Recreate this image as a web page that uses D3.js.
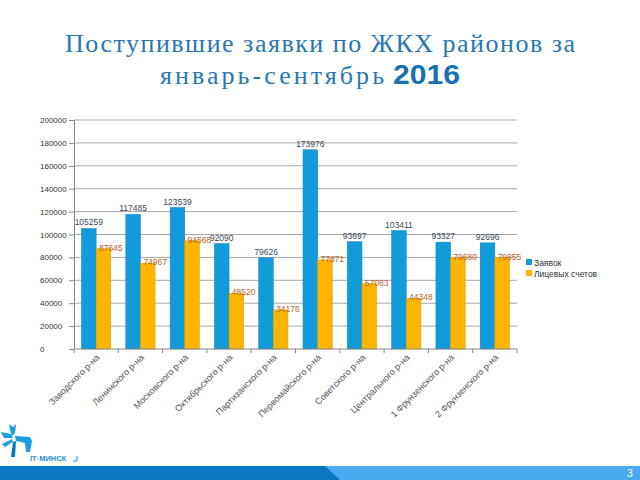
<!DOCTYPE html>
<html><head><meta charset="utf-8">
<script src="https://cdn.jsdelivr.net/npm/d3@7"></script>
<style>body{margin:0;background:#fff}svg{display:block}.serif{font-family:"Liberation Serif","DejaVu Serif",serif}.sans{font-family:"Liberation Sans",Arial,sans-serif}</style>
</head><body>
<svg id="c" width="640" height="480"></svg>
<script>
const categories = ["Заводского р-на","Ленинского р-на","Московского р-на","Октябрьского р-на","Партизанского р-на","Первомайского р-на","Советского р-на","Центрального р-на","1 Фрунзенского р-на","2 Фрунзенского р-на"];
const zayavok = [105259,117485,123539,92090,79626,173976,93697,103411,93327,92696];
const licevyh = [87645,74967,94568,48520,34176,77871,57083,44348,79680,79855];
const seriesNames = ["Заявок","Лицевых счетов"];
const yTicks = [0,20000,40000,60000,80000,100000,120000,140000,160000,180000,200000];

const svg = d3.select("#c");
const L=74,R=517,T=120,B=349;
const x = d3.scaleBand().domain(categories).range([L,R]).paddingInner(0.34).paddingOuter(0.17);
const x1 = d3.scaleBand().domain([0,1]).range([0,x.bandwidth()]);
const y = d3.scaleLinear().domain([0,200000]).range([B,T]);
const colors=["#119bdb","#ffb400"];

// title
svg.append("text").attr("class","serif").attr("x",65).attr("y",52).attr("fill","#2a76b4")
 .style("font-size","26px").attr("textLength",510).attr("lengthAdjust","spacing")
 .text("Поступившие заявки по ЖКХ районов за");
svg.append("text").attr("class","serif").attr("x",160).attr("y",84).attr("fill","#2a76b4")
 .style("font-size","26px").attr("textLength",224).attr("lengthAdjust","spacing").text("январь-сентябрь");
svg.append("text").attr("class","sans").attr("x",393).attr("y",84).attr("fill","#1670b5")
 .style("font-size","28px").style("font-weight","bold").attr("textLength",67).attr("lengthAdjust","spacingAndGlyphs").text("2016");

// grid
svg.append("g").selectAll("line").data(yTicks.slice(1)).join("line")
 .attr("x1",L).attr("x2",R).attr("y1",d=>y(d)).attr("y2",d=>y(d)).attr("stroke","#a8a8a8").attr("stroke-width",1);

// y axis
const ya = svg.append("g").attr("transform",`translate(${L},0)`).call(d3.axisLeft(y).tickValues(yTicks).tickSize(5).tickFormat(d3.format("d")));
ya.select(".domain").attr("stroke","#888");
ya.selectAll(".tick line").attr("stroke","#888");
ya.selectAll("text").attr("class","sans").attr("fill","#333").style("font-size","8px").attr("x",-34).attr("text-anchor","start");

// bars
const g = svg.append("g");
[zayavok,licevyh].forEach((vals,si)=>{
  g.selectAll(null).data(vals).join("rect")
   .attr("x",(d,i)=>x(categories[i])+x1(si)).attr("width",x1.bandwidth())
   .attr("y",d=>y(d)).attr("height",d=>B-y(d)).attr("fill",colors[si])
   .attr("stroke",si==0?"#0d7fb8":"#d99a00").attr("stroke-width",0.5);
});
// labels
g.selectAll(null).data(zayavok).join("text").attr("class","sans")
 .attr("x",(d,i)=>x(categories[i])+x1(0)+x1.bandwidth()/2).attr("y",d=>y(d)-3)
 .attr("text-anchor","middle").attr("fill","#3b4a5a").style("font-size","8.5px").text(d=>d);
g.selectAll(null).data(licevyh).join("text").attr("class","sans")
 .attr("x",(d,i)=>x(categories[i])+x1(1)+x1.bandwidth()).attr("y",d=>y(d)+2)
 .attr("text-anchor","middle").attr("fill","#b8642a").style("font-size","8.5px").text(d=>d);

// x axis
svg.append("line").attr("x1",L).attr("x2",R).attr("y1",B).attr("y2",B).attr("stroke","#888");
svg.append("g").selectAll("line").data(d3.range(categories.length+1)).join("line")
 .attr("x1",i=>L+i*(R-L)/categories.length).attr("x2",i=>L+i*(R-L)/categories.length).attr("y1",B).attr("y2",B+4).attr("stroke","#888");
svg.append("g").selectAll("text").data(categories).join("text").attr("class","sans")
 .attr("transform",d=>`translate(${x(d)+x.bandwidth()/2+4},${B+9}) rotate(-45)`)
 .attr("text-anchor","end").attr("fill","#555").style("font-size","9px").text(d=>d);

// legend
const lg = svg.append("g").attr("transform","translate(526,259)");
seriesNames.forEach((n,i)=>{
  lg.append("rect").attr("x",0).attr("y",i*11).attr("width",6).attr("height",6).attr("fill",colors[i]);
  lg.append("text").attr("class","sans").attr("x",8).attr("y",i*11+6.5).attr("fill","#333").style("font-size","8.5px").text(n);
});

// footer
svg.append("rect").attr("x",0).attr("y",466).attr("width",640).attr("height",14).attr("fill","#4aaaf0");
svg.append("path").attr("d","M0,466 L325,466 L340,480 L0,480 Z").attr("fill","#0a78c2");
svg.append("text").attr("class","sans").attr("x",630).attr("y",477).attr("text-anchor","middle").attr("fill","#fff").style("font-size","10px").text("3");

// logo
const lo = svg.append("g").attr("fill","#1c9ee0");
lo.append("path").attr("d","M9,424 L13,427 L16,424 L15,433 L12,436 L10,430 Z");
lo.append("path").attr("d","M1,432 L11,434 L13,438 L4,438 Z");
lo.append("path").attr("d","M2,444 L12,439 L13,442 L5,447 Z");
lo.append("path").attr("d","M13,442 L16,441 L15,457 L11,457 Z").attr("fill","#0a78c2");
lo.append("path").attr("d","M15,436 L30,437 L32,441 L30,452 L26,452 L25,443 L16,441 Z");
svg.append("text").attr("class","sans").attr("x",30).attr("y",461).attr("fill","#1a8fd6").style("font-size","7.5px").style("font-weight","bold").text("IT·МИНСК");
svg.append("path").attr("d","M77,456 L77,461 L73,461").attr("stroke","#1a8fd6").attr("fill","none").attr("stroke-width",1);
</script>
</body></html>
